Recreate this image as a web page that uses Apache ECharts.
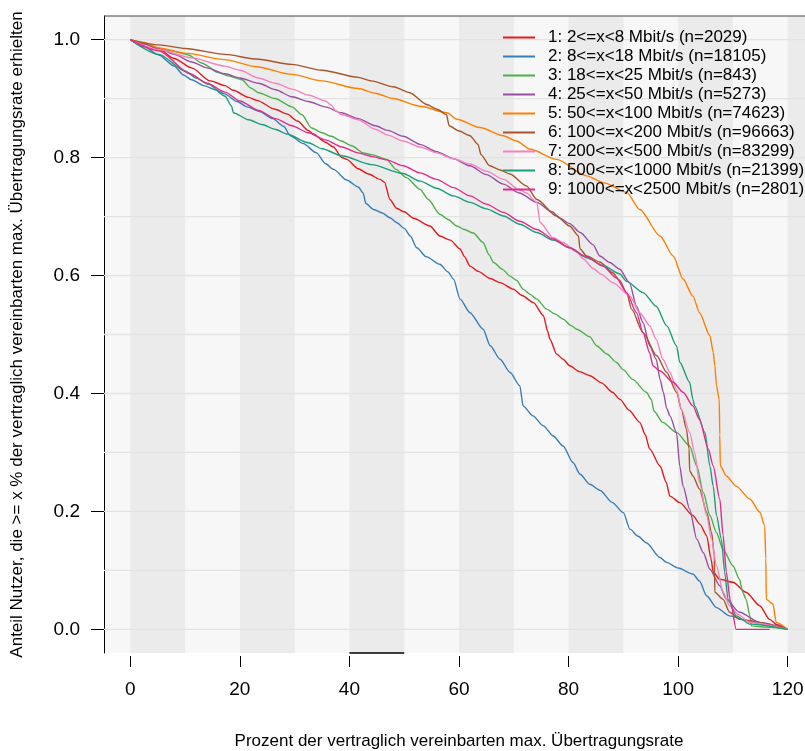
<!DOCTYPE html>
<html><head><meta charset="utf-8">
<script src="https://cdn.jsdelivr.net/npm/echarts@6/dist/echarts.min.js"></script>
<style>html,body{margin:0;padding:0;background:#fff}#chart{width:805px;height:751px}</style>
</head><body><div id="chart"></div>
<script>
// Empirical CCDF of achieved throughput per contracted-speed class
const seriesNames = [
  '1: 2<=x<8 Mbit/s (n=2029)',
  '2: 8<=x<18 Mbit/s (n=18105)',
  '3: 18<=x<25 Mbit/s (n=843)',
  '4: 25<=x<50 Mbit/s (n=5273)',
  '5: 50<=x<100 Mbit/s (n=74623)',
  '6: 100<=x<200 Mbit/s (n=96663)',
  '7: 200<=x<500 Mbit/s (n=83299)',
  '8: 500<=x<1000 Mbit/s (n=21399)',
  '9: 1000<=x<2500 Mbit/s (n=2801)'
];
const seriesColors = ['#E41A1C','#377EB8','#4DAF4A','#984EA3','#FF7F00','#A65628','#F781BF','#1B9E77','#E7298A'];

const s1 = [[0,1],[2.5,0.993],[5.2,0.984],[8,0.968],[11.2,0.952],[14.6,0.930],[17.3,0.922],[18.8,0.914],[21.6,0.902],[23.1,0.897],[26.4,0.882],[28.6,0.874],[30.5,0.862],[32.5,0.846],[33.4,0.840],[35.6,0.826],[37.1,0.818],[38.6,0.800],[39.5,0.797],[41.6,0.781],[43.5,0.772],[45.6,0.763],[46.4,0.758],[47.4,0.729],[48.6,0.714],[50,0.708],[51.7,0.697],[54.7,0.684],[56.5,0.667],[58.4,0.660],[60.2,0.645],[61,0.632],[62,0.616],[63.5,0.607],[65.7,0.595],[67.5,0.588],[69.9,0.577],[71.5,0.566],[73.6,0.554],[75.4,0.532],[76.2,0.505],[76.6,0.492],[77.8,0.467],[79,0.458],[80.2,0.447],[82,0.437],[83.9,0.430],[86,0.418],[88,0.402],[89.4,0.390],[91,0.372],[93,0.351],[94,0.330],[94.8,0.306],[96.7,0.277],[97.8,0.250],[98.5,0.226],[100.3,0.215],[102.7,0.193],[104,0.178],[105.2,0.159],[106,0.120],[106.4,0.097],[107.6,0.085],[110,0.080],[112.4,0.063],[114.9,0.040],[116.7,0.017],[118,0.008],[120,0]];
const s2 = [[0,1],[2.5,0.988],[5.2,0.974],[8,0.955],[9.7,0.940],[11.2,0.932],[13.4,0.922],[15.5,0.915],[17.2,0.908],[19.5,0.895],[21.3,0.886],[23.6,0.878],[26,0.866],[28,0.853],[29.2,0.837],[31.5,0.824],[34,0.808],[35.6,0.790],[37.1,0.780],[39.5,0.762],[41.6,0.750],[42.5,0.740],[43,0.722],[44.4,0.712],[46,0.706],[47.4,0.698],[48.6,0.690],[50,0.680],[51.1,0.667],[52.3,0.647],[54,0.632],[56.5,0.619],[58,0.606],[59,0.594],[60.2,0.560],[62,0.537],[64.4,0.509],[65.7,0.481],[67.5,0.458],[69.3,0.436],[71.1,0.413],[71.7,0.379],[73.5,0.362],[75.4,0.345],[77.2,0.328],[79,0.311],[80.8,0.283],[82.1,0.263],[83.9,0.246],[85.7,0.236],[88,0.215],[90,0.198],[91.2,0.170],[92.7,0.158],[94.2,0.147],[96.7,0.122],[97.8,0.114],[100,0.104],[102.7,0.094],[103.9,0.082],[105.2,0.057],[107,0.037],[109.4,0.023],[112.4,0.015],[116,0.007],[120,0]];
const s3 = [[0,1],[2.5,0.993],[5.2,0.985],[8,0.980],[10.6,0.974],[13.1,0.960],[16.1,0.944],[18,0.938],[20.4,0.932],[22,0.918],[23.4,0.910],[26.4,0.900],[29.5,0.886],[31.3,0.873],[33.1,0.850],[35,0.842],[36.7,0.836],[38.5,0.828],[40.4,0.820],[42.5,0.808],[44,0.805],[46.8,0.797],[48.5,0.780],[50.4,0.766],[52.9,0.746],[54.4,0.729],[56.5,0.704],[58,0.695],[59.6,0.684],[61,0.678],[62.6,0.672],[64.4,0.656],[65.5,0.635],[66.3,0.622],[68,0.610],[69.3,0.599],[70.5,0.592],[71.7,0.577],[73,0.568],[74.2,0.560],[76,0.543],[77.5,0.535],[79,0.526],[80.5,0.515],[81.5,0.509],[83.9,0.496],[85.1,0.481],[87,0.467],[88.7,0.453],[90,0.440],[91.7,0.424],[94.2,0.402],[95.1,0.390],[95.6,0.370],[97.2,0.351],[99.7,0.334],[102.1,0.311],[103.4,0.277],[104.6,0.232],[105.8,0.193],[107,0.164],[108.2,0.136],[110,0.108],[111.2,0.085],[111.8,0.063],[112.4,0.051],[113.1,0.023],[113.4,0.006],[116,0.004],[120,0]];
const s4 = [[0,1],[2.5,0.993],[5.2,0.985],[8,0.975],[11.2,0.962],[14,0.952],[17.3,0.942],[20,0.935],[23.4,0.926],[26.5,0.915],[29.5,0.903],[32.5,0.895],[35.6,0.886],[38.5,0.876],[41.6,0.866],[44.7,0.854],[47,0.846],[49.8,0.836],[53,0.822],[55.9,0.810],[59,0.798],[62,0.786],[65,0.771],[68.1,0.755],[71,0.740],[74.2,0.724],[77,0.708],[78.4,0.697],[80.2,0.688],[82.1,0.673],[84.5,0.652],[85.7,0.633],[87.5,0.622],[89.3,0.611],[91.1,0.588],[92.4,0.548],[93.6,0.520],[94.8,0.481],[96,0.458],[96.7,0.424],[97.3,0.402],[97.9,0.375],[98.5,0.362],[99.7,0.334],[100.3,0.277],[100.9,0.243],[102.1,0.204],[103.4,0.153],[104.6,0.130],[105.8,0.102],[107.6,0.074],[108.8,0.051],[111.2,0.029],[114.9,0.012],[120,0]];
const s5 = [[0,1],[2.5,0.995],[5.2,0.986],[10,0.977],[17.3,0.966],[23,0.954],[29.5,0.941],[35,0.930],[41.6,0.917],[44.7,0.909],[48,0.900],[52.9,0.887],[57.8,0.876],[59.6,0.865],[63.8,0.851],[68.1,0.837],[70.5,0.828],[73,0.814],[77.8,0.797],[83.3,0.769],[86.5,0.757],[90.6,0.741],[93,0.712],[96.7,0.667],[99.1,0.633],[100.9,0.594],[102.7,0.565],[103.9,0.537],[105.8,0.498],[106.4,0.470],[106.7,0.447],[107,0.413],[107.5,0.390],[107.6,0.330],[107.7,0.277],[108.8,0.260],[110.6,0.243],[113.1,0.221],[114.9,0.199],[115.8,0.176],[116,0.120],[116.1,0.051],[117.3,0.043],[117.9,0.012],[120,0]];
const s6 = [[0,1],[5.2,0.991],[10,0.985],[17.3,0.975],[23,0.967],[29.5,0.958],[35,0.948],[41.6,0.936],[44,0.930],[48,0.920],[51,0.910],[54.1,0.890],[56,0.882],[57.7,0.873],[58.2,0.854],[60,0.845],[62,0.837],[63.5,0.822],[64,0.805],[65.6,0.786],[67.5,0.779],[69.3,0.772],[72.3,0.752],[74.2,0.729],[77.8,0.701],[80.2,0.684],[81.8,0.667],[82.1,0.645],[83.3,0.633],[85.7,0.623],[88,0.605],[89.3,0.592],[90.6,0.571],[91.5,0.543],[93.6,0.503],[96.1,0.464],[97.9,0.436],[99.7,0.402],[100.6,0.373],[101.5,0.340],[102,0.306],[102.1,0.269],[102.7,0.260],[103.9,0.238],[105.2,0.199],[106.1,0.165],[106.6,0.125],[106.7,0.063],[108.2,0.051],[109.4,0.029],[111.2,0.017],[120,0]];
const s7 = [[0,1],[5.2,0.983],[11.2,0.969],[17.3,0.955],[20,0.948],[23.4,0.935],[26.5,0.926],[29.5,0.916],[32.5,0.906],[35.6,0.896],[36.8,0.888],[37.4,0.880],[38.6,0.873],[41.6,0.864],[44.7,0.848],[47,0.838],[49.8,0.828],[52.9,0.818],[55.9,0.808],[59,0.798],[62,0.789],[65,0.777],[68.1,0.763],[71.1,0.745],[72.3,0.740],[74.2,0.724],[74.8,0.690],[77.2,0.664],[79,0.656],[81.5,0.640],[82.7,0.628],[84.5,0.612],[86,0.602],[88.1,0.588],[91.2,0.565],[93,0.537],[94.8,0.515],[96,0.492],[97.2,0.458],[98.5,0.436],[99.7,0.407],[100.6,0.373],[102.1,0.334],[103,0.300],[103.9,0.249],[105.2,0.193],[106.1,0.153],[107,0.108],[108.2,0.063],[109.4,0.040],[111,0.025],[113,0.012],[120,0]];
const s8 = [[0,1],[5.2,0.975],[10,0.947],[12,0.935],[14.3,0.924],[17.3,0.904],[18.5,0.887],[18.8,0.876],[21.6,0.864],[24,0.856],[26.4,0.848],[28.6,0.840],[32.5,0.825],[35,0.815],[38.6,0.803],[44,0.788],[49.8,0.773],[52.9,0.760],[55.9,0.748],[59,0.735],[62,0.724],[65,0.713],[68.1,0.701],[71.1,0.687],[74.2,0.673],[77.2,0.660],[80.2,0.647],[83.3,0.630],[86.3,0.617],[89.3,0.603],[90.6,0.590],[93.6,0.571],[96,0.548],[97.9,0.515],[99.7,0.481],[100.3,0.453],[102.1,0.419],[102.7,0.390],[103,0.379],[104.9,0.334],[105.8,0.277],[106.4,0.243],[107,0.193],[107.9,0.153],[108.5,0.097],[109.1,0.051],[110.6,0.023],[113.1,0.009],[120,0]];
const s9 = [[0,1],[5.2,0.981],[10.9,0.942],[14,0.926],[17.3,0.911],[20,0.896],[23.4,0.880],[26.5,0.866],[29.5,0.854],[32.5,0.842],[35.6,0.830],[38.6,0.818],[41.6,0.808],[44,0.802],[46.8,0.796],[49.8,0.786],[52.9,0.774],[55.9,0.763],[59,0.749],[62,0.735],[65,0.721],[68.1,0.707],[71.1,0.692],[74.2,0.678],[77.2,0.662],[80.2,0.647],[83.3,0.632],[86.3,0.616],[88.7,0.596],[90.6,0.571],[92.4,0.537],[93.6,0.503],[94.8,0.469],[95.4,0.447],[96.7,0.438],[99.1,0.419],[100.9,0.402],[102.7,0.379],[103.9,0.356],[105.5,0.306],[106.4,0.277],[107.6,0.221],[108.2,0.160],[108.8,0.097],[109.5,0.050],[110.6,0],[116.7,0]];
const curves = [s1, s2, s3, s4, s5, s6, s7, s8, s9];

// axis ticks and background structure
const xTicks = [0, 20, 40, 60, 80, 100, 120];
const yTicks = [0, 0.2, 0.4, 0.6, 0.8, 1.0];
const gridLevels = [0, 0.1, 0.2, 0.3, 0.4, 0.5, 0.6, 0.7, 0.8, 0.9, 1.0];
const bandStarts = [0, 20, 40, 60, 80, 100, 120];
const bandWidth = 10;
const xRange = [-4.8, 124.8];
const yRange = [-0.04, 1.04];
const baseSegment = [40, 50];

const font = "'Liberation Sans', Arial, sans-serif";
const chart = echarts.init(document.getElementById('chart'), null, {renderer: 'canvas'});

const series = [];
// shaded vertical bands
series.push({
  type: 'line', data: [], silent: true, z: 0,
  markArea: {
    silent: true,
    itemStyle: {color: '#EBEBEB'},
    data: bandStarts.map(s => [{xAxis: s}, {xAxis: Math.min(s + bandWidth, xRange[1])}])
  }
});
// horizontal guide lines, drawn beneath the curves
gridLevels.forEach(v => {
  series.push({
    type: 'line', data: [[xRange[0], v], [xRange[1], v]], symbol: 'none', silent: true, z: 1,
    lineStyle: {color: '#E3E3E3', width: 1.3}
  });
});
curves.forEach((d, i) => {
  series.push({
    name: seriesNames[i], type: 'line', data: d, symbol: 'none', z: 2 + i,
    smooth: 0.25, smoothMonotone: 'x',
    lineStyle: {color: seriesColors[i], width: 1.4}, itemStyle: {color: seriesColors[i]}
  });
});
// plot frame: top edge and the short stub along the lower edge
series.push({
  type: 'line', data: [[xRange[0], yRange[1]], [xRange[1], yRange[1]]], symbol: 'none', silent: true, z: 20,
  lineStyle: {color: '#444', width: 1}, clip: false
});
series.push({
  type: 'line', data: baseSegment.map(x => [x, yRange[0]]), symbol: 'none', silent: true, z: 20,
  lineStyle: {color: '#000', width: 1.3}, clip: false
});

chart.setOption({
  animation: false,
  backgroundColor: '#FFFFFF',
  grid: {left: 104, top: 16, right: -9, bottom: 98, show: true, backgroundColor: '#F7F7F7', borderWidth: 0, containLabel: false, outerBoundsMode: 'none'},
  legend: {
    left: 503, top: 28, padding: 0, orient: 'vertical', itemWidth: 32, itemHeight: 14, itemGap: 0,
    data: seriesNames, icon: 'path://M0,6h32v2h-32z', z: 30,
    textStyle: {fontFamily: font, fontSize: 17, color: '#000', lineHeight: 19, padding: [0, 0, 0, 8]},
    selectedMode: false
  },
  xAxis: {
    type: 'value', min: xRange[0], max: xRange[1], offset: 3,
    name: 'Prozent der vertraglich vereinbarten max. Übertragungsrate',
    nameLocation: 'middle', nameGap: 77,
    nameTextStyle: {fontFamily: font, fontSize: 17, color: '#000'},
    axisLine: {show: false, onZero: false}, splitLine: {show: false},
    axisTick: {show: true, length: 11, customValues: xTicks, lineStyle: {color: '#000', width: 1}},
    axisLabel: {customValues: xTicks, fontFamily: font, fontSize: 19, color: '#000', margin: 24}
  },
  yAxis: {
    type: 'value', min: yRange[0], max: yRange[1],
    name: 'Anteil Nutzer, die >= x % der vertraglich vereinbarten max. Übertragungsrate erhielten',
    nameLocation: 'middle', nameGap: 78, nameRotate: 90,
    nameTextStyle: {fontFamily: font, fontSize: 17, color: '#000'},
    axisLine: {show: true, onZero: false, lineStyle: {color: '#000', width: 1}},
    splitLine: {show: false},
    axisTick: {show: true, length: 13, customValues: yTicks, lineStyle: {color: '#000', width: 1}},
    axisLabel: {customValues: yTicks, fontFamily: font, fontSize: 19, color: '#000', margin: 24,
      formatter: v => v.toFixed(1)}
  },
  series: series
});
</script></body></html>
